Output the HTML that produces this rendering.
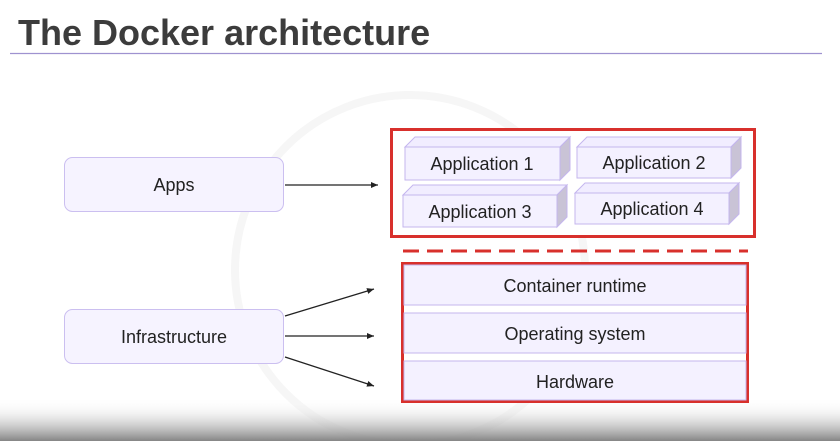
<!DOCTYPE html>
<html><head><meta charset="utf-8"><style>
html,body{margin:0;padding:0;background:#fff;}
svg{display:block;font-family:"Liberation Sans",sans-serif;}
</style></head><body>
<svg width="840" height="441" viewBox="0 0 840 441" xmlns="http://www.w3.org/2000/svg">
<defs>
<linearGradient id="bg" x1="0" y1="0" x2="0" y2="1">
<stop offset="0" stop-color="#ffffff" stop-opacity="0"/>
<stop offset="0.35" stop-color="#e6e6e6" stop-opacity="0.5"/>
<stop offset="1" stop-color="#858585"/>
</linearGradient>
<marker id="ah" markerWidth="8" markerHeight="8" refX="7" refY="4" orient="auto" markerUnits="userSpaceOnUse">
<path d="M0,1 L7,4 L0,7 z" fill="#222"/>
</marker>
</defs>
<rect width="840" height="441" fill="#fff"/>
<circle cx="410" cy="270" r="175" fill="none" stroke="#f6f6f6" stroke-width="8"/>
<text x="18" y="45" font-size="36" font-weight="bold" fill="#3c3c3c">The Docker architecture</text>
<line x1="10" y1="53.5" x2="822" y2="53.5" stroke="#9f92d0" stroke-width="1.2"/>

<rect x="64.5" y="157.5" width="219" height="54" rx="8" fill="#f6f3ff" stroke="#cbbff0"/>
<text x="174" y="191" font-size="18" text-anchor="middle" fill="#222">Apps</text>
<rect x="64.5" y="309.5" width="219" height="54" rx="8" fill="#f6f3ff" stroke="#cbbff0"/>
<text x="174" y="343" font-size="18" text-anchor="middle" fill="#222">Infrastructure</text>

<g stroke="#222" stroke-width="1.3">
<line x1="285" y1="185" x2="378" y2="185" marker-end="url(#ah)"/>
<line x1="285" y1="316" x2="374" y2="289" marker-end="url(#ah)"/>
<line x1="285" y1="336" x2="374" y2="336" marker-end="url(#ah)"/>
<line x1="285" y1="357" x2="374" y2="386" marker-end="url(#ah)"/>
</g>

<rect x="391.5" y="129.5" width="363" height="107" fill="#fff" stroke="#d8302c" stroke-width="3"/>
<g stroke="#c4b6ee" stroke-width="1">
<path d="M405,147 L415,137 L570,137 L560,147 Z" fill="#f1edff"/>
<path d="M560,147 L570,137 L570,170 L560,180 Z" fill="#c9c3d6"/>
<rect x="405" y="147" width="155" height="33" fill="#f4f1ff"/>
<path d="M577,147 L587,137 L741,137 L731,147 Z" fill="#f1edff"/>
<path d="M731,147 L741,137 L741,168 L731,178 Z" fill="#c9c3d6"/>
<rect x="577" y="147" width="154" height="31" fill="#f4f1ff"/>
<path d="M403,195 L413,185 L567,185 L557,195 Z" fill="#f1edff"/>
<path d="M557,195 L567,185 L567,217 L557,227 Z" fill="#c9c3d6"/>
<rect x="403" y="195" width="154" height="32" fill="#f4f1ff"/>
<path d="M575,193 L585,183 L739,183 L729,193 Z" fill="#f1edff"/>
<path d="M729,193 L739,183 L739,214 L729,224 Z" fill="#c9c3d6"/>
<rect x="575" y="193" width="154" height="31" fill="#f4f1ff"/>
</g>
<g font-size="18" text-anchor="middle" fill="#222">
<text x="482" y="170">Application 1</text>
<text x="654" y="169">Application 2</text>
<text x="480" y="218">Application 3</text>
<text x="652" y="215">Application 4</text>
</g>

<line x1="403" y1="251" x2="748" y2="251" stroke="#d8302c" stroke-width="3" stroke-dasharray="16,8"/>

<rect x="0" y="398" width="840" height="43" fill="url(#bg)"/>

<rect x="402.5" y="263.5" width="345" height="138" fill="#fff" stroke="#d8302c" stroke-width="3"/>
<g fill="#f4f1ff" stroke="#c4b6ee">
<rect x="404" y="265" width="342" height="40"/>
<rect x="404" y="313" width="342" height="40"/>
<rect x="404" y="361" width="342" height="39"/>
</g>
<g font-size="18" text-anchor="middle" fill="#222">
<text x="575" y="292">Container runtime</text>
<text x="575" y="340">Operating system</text>
<text x="575" y="388">Hardware</text>
</g>
</svg>
</body></html>
